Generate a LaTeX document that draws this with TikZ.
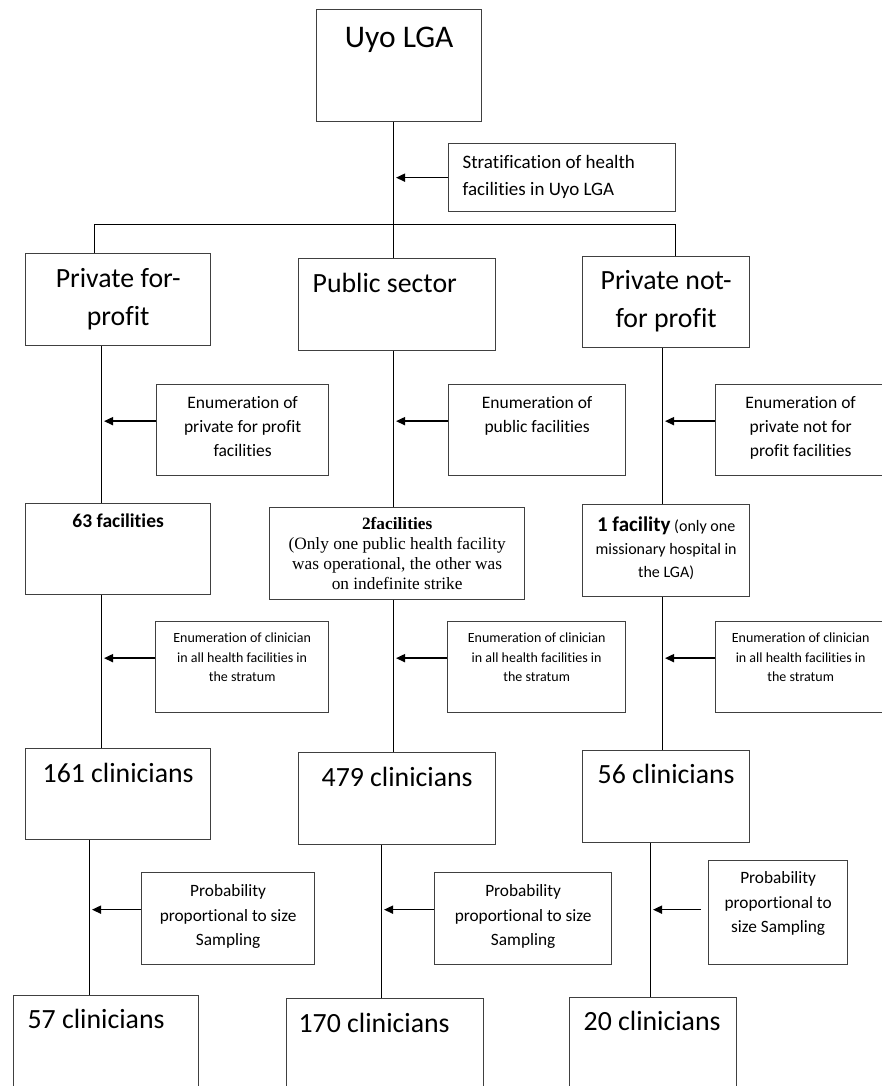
\documentclass[tikz,border=0pt]{standalone}
\usepackage{fontspec}
\setmainfont[Ligatures=NoCommon]{Carlito}
\newfontfamily\timesfont[Ligatures=NoCommon]{Liberation Serif}
\usetikzlibrary{arrows.meta}
\newcommand{\cell}[5]{\parbox[c][#2pt][t]{#1pt}{#4\rule{0pt}{#3pt}#5}}
\newcommand{\bigtext}{\fontsize{27.8}{38}\selectfont}

\begin{document}
\begin{tikzpicture}[x=1pt,y=-1pt,
  stage/.style={draw=black!75,line width=1.3pt,inner sep=0pt,anchor=north west},
  link/.style={line width=0.8pt},
  pointer/.style={line width=1.6pt,-{Triangle[length=9pt,width=8pt]},shorten >=3pt}]
\useasboundingbox[fill=white] (0,0) rectangle (882,1086);
\node[stage] (uyo) at (316,9) {\cell{165}{112}{38}{\centering\fontsize{31.5}{36}\selectfont}{Uyo LGA}};
\node[stage] (stratify) at (448,143) {\cell{227}{68}{25}{\leftskip=14pt\fontsize{19}{27}\selectfont}{Stratification of health\\facilities in Uyo LGA}};
\node[stage] (forprofit) at (25,253) {\cell{185}{92}{34}{\centering\bigtext}{Private for-\\profit}};
\node[stage] (public) at (298,258) {\cell{197}{92}{34}{\leftskip=14pt\bigtext}{Public sector}};
\node[stage] (notprofit) at (582,256) {\cell{167}{91}{33}{\centering\bigtext}{Private not-\\for profit}};
\node[stage] (enumA) at (156,384) {\cell{172}{91}{24}{\centering\fontsize{17.5}{24}\selectfont}{Enumeration of\\private for profit\\facilities}};
\node[stage] (enumB) at (448,384) {\cell{177}{91}{24}{\centering\fontsize{17.5}{24}\selectfont}{Enumeration of\\public facilities}};
\node[stage] (enumC) at (715,384) {\cell{170}{91}{24}{\centering\fontsize{17.5}{24}\selectfont}{Enumeration of\\private not for\\profit facilities}};
\node[stage] (factA) at (25,503) {\cell{185}{91}{24}{\centering\bfseries\fontsize{19.5}{24}\selectfont}{63 facilities}};
\node[stage] (factB) at (269,507) {\cell{255}{92}{22}{\centering\timesfont\fontsize{17.3}{20}\selectfont}{\textbf{2facilities}\\(Only one public health facility\\was operational, the other was\\on indefinite strike}};
\node[stage] (factC) at (582,504) {\cell{167}{92}{27}{\centering\fontsize{16}{23}\selectfont}{{\bfseries\fontsize{21}{23}\selectfont 1 facility} (only one\\missionary hospital in\\the LGA)}};
\node[stage] (clinA) at (155,621) {\cell{173}{91}{21}{\centering\fontsize{14}{19.5}\selectfont}{Enumeration of clinician\\in all health facilities in\\the stratum}};
\node[stage] (clinB) at (447,621) {\cell{178}{91}{21}{\centering\fontsize{14}{19.5}\selectfont}{Enumeration of clinician\\in all health facilities in\\the stratum}};
\node[stage] (clinC) at (715,621) {\cell{170}{91}{21}{\centering\fontsize{14}{19.5}\selectfont}{Enumeration of clinician\\in all health facilities in\\the stratum}};
\node[stage] (countA) at (25,748) {\cell{185}{91}{34}{\centering\bigtext}{161 clinicians}};
\node[stage] (countB) at (298,752) {\cell{197}{92}{34}{\centering\bigtext}{479 clinicians}};
\node[stage] (countC) at (582,750) {\cell{167}{92}{33}{\centering\bigtext}{56 clinicians}};
\node[stage] (sampleA) at (141,872) {\cell{173}{92}{24}{\centering\fontsize{17.3}{24.5}\selectfont}{Probability\\proportional to size\\Sampling}};
\node[stage] (sampleB) at (434,872) {\cell{177}{92}{24}{\centering\fontsize{17.3}{24.5}\selectfont}{Probability\\proportional to size\\Sampling}};
\node[stage] (sampleC) at (708,860) {\cell{139}{104}{23}{\centering\fontsize{17.3}{24.5}\selectfont}{Probability\\proportional to\\size Sampling}};
\node[stage] (finalA) at (13,995) {\cell{185}{95}{33}{\leftskip=14pt\bigtext}{57 clinicians}};
\node[stage] (finalB) at (286,998) {\cell{197}{95}{34}{\leftskip=12pt\bigtext}{170 clinicians}};
\node[stage] (finalC) at (569,997) {\cell{167}{95}{33}{\leftskip=14pt\bigtext}{20 clinicians}};
\coordinate (spine) at (393,0);
\coordinate (leftdrop) at (94,224);
\coordinate (rightdrop) at (675,224);
\coordinate (colA) at (101,0);
\coordinate (colB) at (393,0);
\coordinate (colC) at (662,0);
\coordinate (lowA) at (89,0);
\coordinate (lowB) at (381,0);
\coordinate (lowC) at (650,0);
\draw[link] (uyo.south -| spine) -- (public.north -| spine);
\draw[link] (forprofit.north -| leftdrop) -- (leftdrop) -- (rightdrop) -- (notprofit.north -| rightdrop);
\foreach \up/\down/\col in {forprofit/factA/colA, public/factB/colB, notprofit/factC/colC,
  factA/countA/colA, factB/countB/colB, factC/countC/colC,
  countA/finalA/lowA, countB/finalB/lowB, countC/finalC/lowC}
  \draw[link] (\up.south -| \col) -- (\down.north -| \col);
\draw[pointer] (stratify.west) -- (stratify.west -| spine);
\foreach \src/\col in {enumA/colA, enumB/colB, enumC/colC, clinA/colA, clinB/colB, clinC/colC, sampleA/lowA, sampleB/lowB}
  \draw[pointer] ([yshift=9pt]\src.west) -- ([yshift=9pt]\src.west -| \col);
\draw[pointer] ([xshift=-7pt,yshift=3pt]sampleC.west) -- ([yshift=3pt]sampleC.west -| lowC);
\end{tikzpicture}
\end{document}
